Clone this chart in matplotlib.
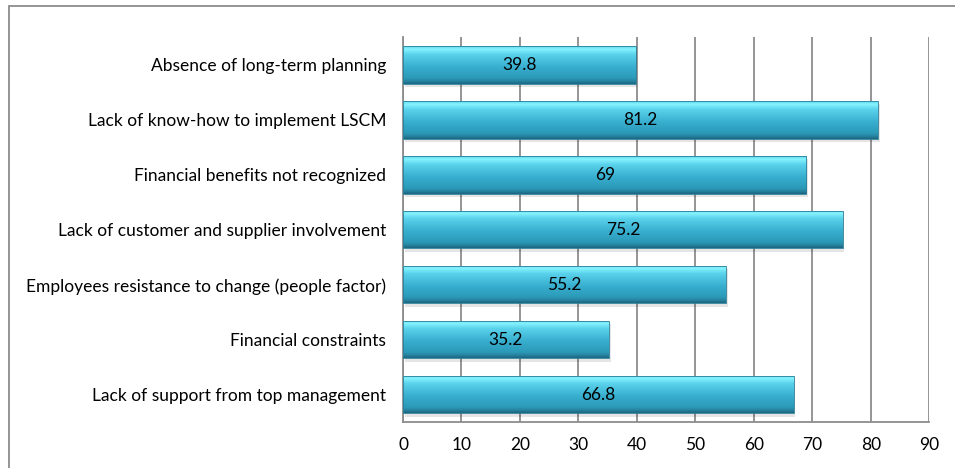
import matplotlib.pyplot as plt
import numpy as np
from matplotlib.colors import LinearSegmentedColormap

categories = ['Absence of long-term planning',
              'Lack of know-how to implement LSCM',
              'Financial benefits not recognized',
              'Lack of customer and supplier involvement',
              'Employees resistance to change (people factor)',
              'Financial constraints',
              'Lack of support from top management']
values = [39.8, 81.2, 69, 75.2, 55.2, 35.2, 66.8]
value_labels = ['39.8', '81.2', '69', '75.2', '55.2', '35.2', '66.8']
xticks = [0, 10, 20, 30, 40, 50, 60, 70, 80, 90]

plt.rcParams['font.family'] = ['Lato', 'DejaVu Sans']

# bar gradient, top to bottom
cmap = LinearSegmentedColormap.from_list('bevel', [
    (0.0, '#5fd8ee'), (0.08, '#86f3ff'), (0.22, '#5ad2eb'),
    (0.55, '#38afcf'), (0.85, '#2b99b8'), (0.93, '#2683a0'), (1.0, '#1b6780')])
grad = np.linspace(0, 1, 100).reshape(-1, 1)

fig = plt.figure(figsize=(9.55, 4.68), dpi=100)
ax = fig.add_axes([0.422, 0.098, 0.551, 0.822])

# outer frame
fig.patches.append(plt.Rectangle((0.0094, -0.2), 1.2, 1.187, transform=fig.transFigure,
                                 fill=False, edgecolor='#8c8c8c', linewidth=1.3))

y = np.arange(len(categories))
h = 0.68
for yi, v, lab in zip(y, values, value_labels):
    # soft shadow
    ax.add_patch(plt.Rectangle((0.3, yi - h / 2 + 0.06), v, h, facecolor='#000000',
                               alpha=0.10, edgecolor='none', zorder=2))
    im = ax.imshow(grad, cmap=cmap, aspect='auto', extent=(0, v, yi + h / 2, yi - h / 2),
                   zorder=3, interpolation='bilinear')
    rect = plt.Rectangle((0, yi - h / 2), v, h, facecolor='none', edgecolor='#2a7f99',
                         linewidth=0.6, zorder=4)
    ax.add_patch(rect)
    im.set_clip_path(rect)
    ax.text(v / 2, yi, lab, ha='center', va='center', fontsize=12.5, color='#000000', zorder=5)

ax.set_xlim(0, 90)
ax.set_ylim(len(categories) - 0.5, -0.5)
ax.set_xticks(xticks)
ax.set_yticks(y)
ax.set_yticklabels(categories, fontsize=12.5)
ax.tick_params(axis='x', labelsize=12.5, length=0, pad=11)
ax.tick_params(axis='y', length=0, pad=12)
ax.grid(axis='x', color='#8c8c8c', linewidth=1.3, zorder=1)
ax.set_axisbelow(True)
for s in ['top', 'right']:
    ax.spines[s].set_visible(False)
for s in ['left', 'bottom']:
    ax.spines[s].set_color('#8c8c8c')
    ax.spines[s].set_linewidth(1.3)

fig.savefig('out.png', dpi=100)
